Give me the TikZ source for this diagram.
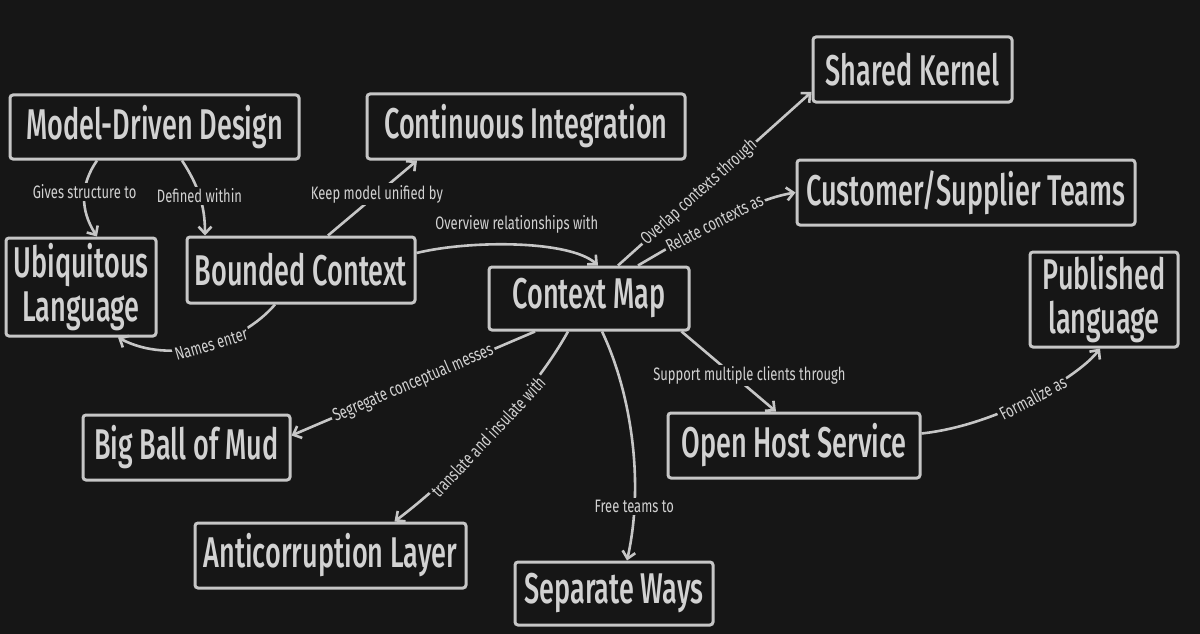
\documentclass[tikz,border=0pt]{standalone}
\usepackage{fontspec}
\setmainfont{Fira Sans}[FakeStretch=0.70]
\newfontfamily\boxfont{Fira Sans Medium}[FakeStretch=0.63]
\newfontfamily\lblfont{Fira Sans}[FakeStretch=0.72]
\usetikzlibrary{arrows.meta,calc}
\definecolor{bg}{HTML}{161616}
\definecolor{ln}{HTML}{C6C6C6}
\definecolor{tx}{HTML}{D2D2D2}
\tikzset{
  concept/.style={draw=ln, line width=3pt, rounded corners=3pt, fill=bg, text=tx,
    inner sep=0pt, align=center, font=\boxfont\fontsize{43}{44}\selectfont},
  link/.style={draw=ln, line width=2.6pt, -{Straight Barb[length=7pt,width=13pt,line width=2.6pt]}},
  lbl/.style={fill=bg, text=tx, inner sep=2pt, font=\lblfont\fontsize{18}{20}\selectfont},
}
\begin{document}
\begin{tikzpicture}[x=1pt,y=-1pt]
\fill[bg] (0,0) rectangle (1200,634);
\useasboundingbox (0,0) rectangle (1200,634);

\node[concept, minimum width=289pt, minimum height=64pt] (mdd) at (154.5,127) {Model-Driven Design};
\node[concept, minimum width=150pt, minimum height=98pt] (ul) at (81,287) {Ubiquitous\\Language};
\node[concept, minimum width=228pt, minimum height=66pt] (bc) at (301,270) {Bounded Context};
\node[concept, minimum width=318pt, minimum height=65pt] (ci) at (526,126.5) {Continuous Integration};
\node[concept, minimum width=200pt, minimum height=63pt] (cm) at (589,298.5) {Context Map};
\node[concept, minimum width=199pt, minimum height=65pt] (sk) at (912.5,69.5) {Shared Kernel};
\node[concept, minimum width=338pt, minimum height=65pt] (cst) at (966,192.5) {Customer/Supplier Teams};
\node[concept, minimum width=148pt, minimum height=95pt] (pl) at (1104,299.5) {Published\\language};
\node[concept, minimum width=252pt, minimum height=65pt] (ohs) at (794,445.5) {Open Host Service};
\node[concept, minimum width=207pt, minimum height=65pt] (bbm) at (186.5,447.5) {Big Ball of Mud};
\node[concept, minimum width=271pt, minimum height=65pt] (acl) at (330.5,555.5) {Anticorruption Layer};
\node[concept, minimum width=198pt, minimum height=63pt] (sw) at (614,593.5) {Separate Ways};

% Model-Driven Design -> Ubiquitous Language
\draw[link] ([xshift=-57.5pt]mdd.south) .. controls (80,185) and (80,210) .. ([xshift=16pt]ul.north)
  node[lbl, pos=0.42] (l1) {Gives structure to};
% Model-Driven Design -> Bounded Context
\draw[link] ([xshift=27.5pt]mdd.south) .. controls (198,185) and (205,205) .. ([xshift=-96pt]bc.north)
  node[lbl, pos=0.5] (l2) {Defined within};
% Bounded Context -> Continuous Integration
\draw[link] ([xshift=27pt]bc.north) -- ([xshift=-109pt]ci.south)
  node[lbl, pos=0.55] (l3) {Keep model unified by};
% Bounded Context -> Context Map
\draw[link] ([yshift=17pt]bc.east) .. controls (470,240) and (570,240) .. ([xshift=9pt]cm.north)
  node[text=tx, font=\lblfont\fontsize{18}{20}\selectfont, pos=0.5, yshift=20pt] (l4) {Overview relationships with};
% Bounded Context -> Ubiquitous Language
\draw[link] ([xshift=-26pt]bc.south) .. controls (240,345) and (170,365) .. ([xshift=37pt]ul.south)
  node[lbl, pos=0.45, sloped] (l5) {Names enter};
% Context Map -> Shared Kernel
\draw[link] ([xshift=29pt]cm.north) -- ([yshift=-22.5pt]sk.west)
  node[lbl, pos=0.42, sloped] (l6) {Overlap contexts through};
% Context Map -> Customer/Supplier Teams
\draw[link] ([xshift=49pt]cm.north) .. controls (690,235) and (750,200) .. (cst.west)
  node[lbl, pos=0.47, sloped] (l7) {Relate contexts as};
% Context Map -> Big Ball of Mud
\draw[link] ([xshift=-54pt]cm.south) -- ([yshift=12pt]bbm.east)
  node[lbl, pos=0.5, sloped] (l8) {Segregate conceptual messes};
% Context Map -> Anticorruption Layer
\draw[link] ([xshift=-21pt]cm.south) .. controls (530,400) and (450,480) .. ([xshift=64pt]acl.north)
  node[lbl, pos=0.5, sloped] (l9) {translate and insulate with};
% Context Map -> Separate Ways
\draw[link] ([xshift=13pt]cm.south) .. controls (630,390) and (645,480) .. ([xshift=13pt]sw.north)
  node[lbl, pos=0.78] (l10) {Free teams to};
% Context Map -> Open Host Service
\draw[link] ([xshift=-9pt]cm.south east) -- ([xshift=-18pt]ohs.north)
  node[lbl, pos=0.55, xshift=16pt] (l11) {Support multiple clients through};
% Open Host Service -> Published language
\draw[link] ([yshift=12pt]ohs.east) .. controls (1000,425) and (1080,375) .. ([xshift=-4pt]pl.south)
  node[lbl, pos=0.5, sloped] (l12) {Formalize as};
\end{tikzpicture}
\end{document}
